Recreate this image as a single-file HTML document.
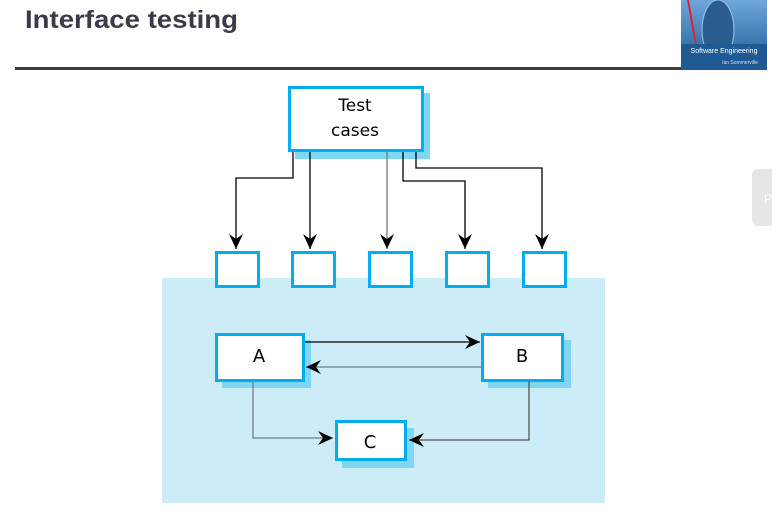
<!DOCTYPE html>
<html><head><meta charset="utf-8"><style>
html,body{margin:0;padding:0;background:#fff;width:772px;height:512px;overflow:hidden}
</style></head><body>
<svg width="772" height="512" xmlns="http://www.w3.org/2000/svg">
<defs>
<marker id="ah" markerWidth="16" markerHeight="14" refX="15" refY="7" orient="auto" markerUnits="userSpaceOnUse">
<path d="M0,0 L15,7 L0,14 L5,7 Z" fill="#000"/>
</marker>
<linearGradient id="sky" x1="0" y1="0" x2="0" y2="1">
<stop offset="0" stop-color="#6fa8d8"/><stop offset="0.6" stop-color="#3b77b0"/><stop offset="1" stop-color="#1f5a95"/>
</linearGradient>
</defs>
<text x="25" y="28" font-family="Liberation Sans, Arial, sans-serif" font-weight="bold" font-size="25" fill="#3c3a48" textLength="213" lengthAdjust="spacingAndGlyphs">Interface testing</text>
<rect x="15" y="67" width="667" height="3" fill="#3e3e44"/>
<rect x="681" y="0" width="86" height="70" fill="url(#sky)"/>
<ellipse cx="718" cy="30" rx="16" ry="30" fill="#2a5e8e" stroke="#9cc6e8" stroke-width="1"/>
<line x1="688" y1="0" x2="696" y2="45" stroke="#d23" stroke-width="2"/>
<rect x="681" y="44" width="86" height="26" fill="#1f5a95"/>
<text x="724" y="53" font-family="Liberation Sans, sans-serif" font-size="7" fill="#fff" text-anchor="middle">Software Engineering</text>
<text x="740" y="64" font-family="Liberation Sans, sans-serif" font-size="5" fill="#dde" text-anchor="middle">Ian Sommerville</text>
<rect x="752" y="169" width="26" height="57" rx="6" fill="#e6e6e6"/>
<text x="764" y="203" font-family="Liberation Sans, sans-serif" font-size="12" fill="#fff">P</text>

<rect x="162" y="278" width="443" height="225" fill="#ccecf8"/>

<rect x="295" y="93" width="135" height="66" fill="#80d4f4"/>
<rect x="289.5" y="87.5" width="133" height="63" fill="#fff" stroke="#00aeef" stroke-width="3"/>
<g font-family="DejaVu Sans, sans-serif" font-size="17" text-anchor="middle">
<text x="355" y="111">Test</text>
<text x="355" y="136">cases</text>
</g>

<g fill="none" stroke="#000" stroke-width="1.3">
<polyline points="293,152 293,178 236,178 236,249" marker-end="url(#ah)"/>
<polyline points="310,152 310,249" marker-end="url(#ah)"/>
<polyline points="387,152 387,249" marker-end="url(#ah)" stroke="#777"/>
<polyline points="403,152 403,181 465,181 465,249" marker-end="url(#ah)"/>
<polyline points="416,152 416,168 542,168 542,249" marker-end="url(#ah)"/>
</g>

<g fill="#fff" stroke="#00aeef" stroke-width="3">
<rect x="216.5" y="252.5" width="42" height="34"/>
<rect x="292.5" y="252.5" width="42" height="34"/>
<rect x="369.5" y="252.5" width="42" height="34"/>
<rect x="446.5" y="252.5" width="42" height="34"/>
<rect x="523.5" y="252.5" width="42" height="34"/>
</g>

<rect x="222" y="340" width="89" height="48" fill="#80d4f4"/>
<rect x="488" y="340" width="83" height="48" fill="#80d4f4"/>
<rect x="342" y="428" width="72" height="40" fill="#80d4f4"/>
<g fill="#fff" stroke="#00aeef" stroke-width="3">
<rect x="216.5" y="334.5" width="87" height="46"/>
<rect x="482.5" y="334.5" width="80" height="46"/>
<rect x="336.5" y="421.5" width="69" height="38"/>
</g>
<g font-family="DejaVu Sans, sans-serif" font-size="18" text-anchor="middle">
<text x="259" y="362">A</text>
<text x="522" y="362">B</text>
<text x="370" y="448">C</text>
</g>
<g fill="none" stroke="#000" stroke-width="1.3">
<polyline points="305,342 480,342" marker-end="url(#ah)"/>
<polyline points="481,367 306,367" marker-end="url(#ah)" stroke="#6a7f88"/>
<polyline points="253,382 253,438 333,438" marker-end="url(#ah)" stroke="#6a7f88"/>
<polyline points="529,381 529,440 409,440" marker-end="url(#ah)" stroke="#555"/>
</g>
</svg>
</body></html>
